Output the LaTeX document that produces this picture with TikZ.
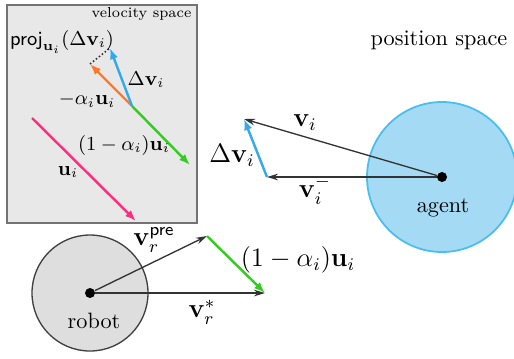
\documentclass[tikz,border=0pt]{standalone}
\usepackage{amsmath}
\usepackage{amssymb}
\usepackage{tikz}
\usetikzlibrary{positioning, arrows.meta, calc}

\definecolor{insetgray}{RGB}{232,232,232}
\definecolor{agentfill}{RGB}{164,218,244}
\definecolor{agentedge}{RGB}{74,190,236}
\definecolor{dvblue}{RGB}{52,170,235}
\definecolor{alphaorange}{RGB}{255,120,40}
\definecolor{ugreen}{RGB}{50,205,30}
\definecolor{upink}{RGB}{255,45,125}

\begin{document}
\begin{tikzpicture}[
  x=0.45pt, y=-0.45pt,
  every node/.style={font=\normalsize},
  dot/.style={circle, fill=black, inner sep=0pt, minimum size=4.5pt},
  vec/.style={-{Stealth[length=5pt, width=3pt]}, line width=0.6pt, draw=black!80},
  cvec/.style={-{Latex[length=5pt, width=3.8pt]}, line width=1.1pt, draw=#1},
  lbl/.style={font=\large, inner sep=1pt},
  slbl/.style={font=\small, inner sep=1pt},
]
\useasboundingbox (0,0) rectangle (514,358);

% --- velocity space (inset, top left)
\draw[draw=black!55, fill=insetgray, line width=0.6pt] (7,5) rectangle (197,223);
\node[font=\fontsize{6.5}{8}\selectfont, anchor=north east, inner sep=1pt] (vstitle) at (194,5) {velocity space};

\coordinate (vbase)   at (132,106);
\coordinate (vorange) at (90,64);
\coordinate (vblue)   at (110,48);
\coordinate (vgreen)  at (190,165);
\coordinate (ustart)  at (32,118);
\coordinate (uend)    at (136,221);

\draw[cvec=ugreen] (vbase) -- (vgreen);
\draw[cvec=alphaorange] (vbase) -- (vorange);
\draw[cvec=dvblue] (vbase) -- (vblue);
\draw[densely dotted, line width=0.7pt, black!80] (vorange) -- (vblue);
\draw[cvec=upink] (ustart) -- (uend);

\node[slbl] (projlbl) at (62,42) {$\textsf{proj}_{\mathbf{u}_i}(\Delta\mathbf{v}_i)$};
\node[slbl] (dvin) at (146,80) {$\Delta\mathbf{v}_i$};
\node[slbl] (alphain) at (87,100) {$-\alpha_i\mathbf{u}_i$};
\node[slbl] (restin) at (124,145) {$(1-\alpha_i)\mathbf{u}_i$};
\node[slbl] (uin) at (68,172) {$\mathbf{u}_i$};

% --- position space: agent
\node (pstitle) at (439,40) {position space};
\draw[draw=agentedge, fill=agentfill, line width=0.8pt] (442,177) circle[radius=75];
\node[dot] (agent) at (442,177) {};
\node (agentlbl) at (443,208) {agent};

\coordinate (vitip) at (244,119);
\coordinate (vmtip) at (267,177);
\draw[vec] (agent) -- (vitip);
\draw[vec] (agent) -- (vmtip);
\draw[cvec=dvblue] (vmtip) -- (vitip);

\node[lbl] (vilbl) at (305,123) {$\mathbf{v}_i$};
\node[lbl] (vmlbl) at (315,190) {$\mathbf{v}_i^-$};
\node[lbl] (dvout) at (232,155) {$\Delta\mathbf{v}_i$};

% --- position space: robot
\draw[draw=black!75, fill=black!13, line width=0.6pt] (90,293) circle[radius=58];
\node[dot] (robot) at (90,293) {};
\node (robotlbl) at (94,321) {robot};

\coordinate (pretip) at (207,236);
\coordinate (startip) at (265,293);
\draw[vec] (robot) -- (pretip);
\draw[vec] (robot) -- (startip);
\draw[cvec=ugreen] (pretip) -- (startip);

\node[lbl] (prelbl) at (154,240) {$\mathbf{v}_r^{\textsf{pre}}$};
\node[lbl] (starlbl) at (202,312) {$\mathbf{v}_r^*$};
\node[lbl] (restout) at (298,260) {$(1-\alpha_i)\mathbf{u}_i$};

\end{tikzpicture}
\end{document}
